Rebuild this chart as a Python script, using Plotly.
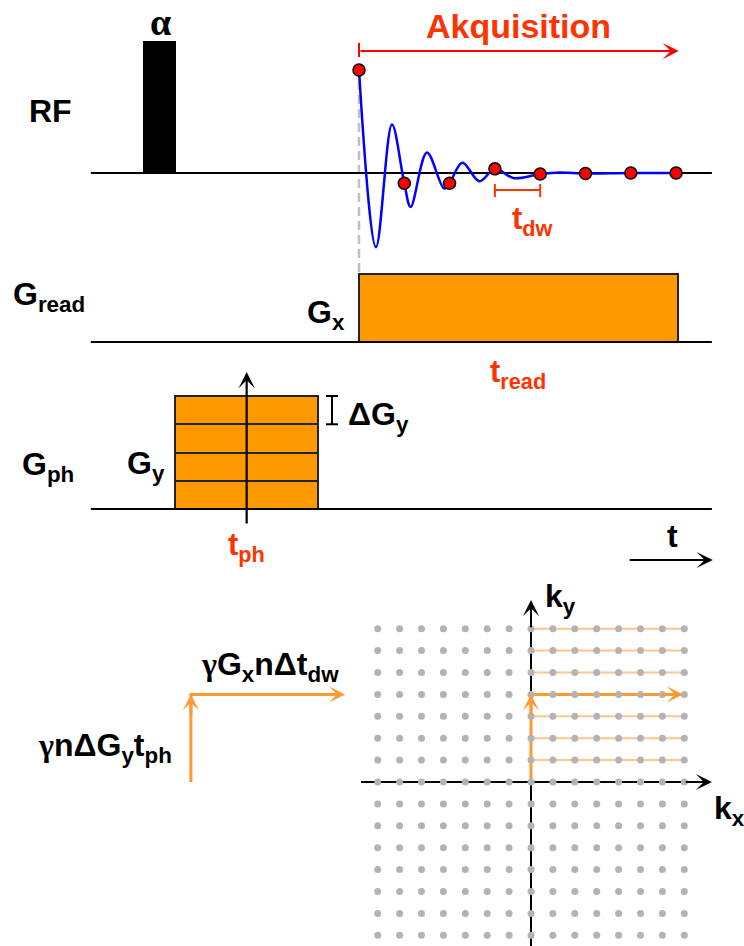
import plotly.graph_objects as go

# ---------------- data ----------------
# time axis in dwell-time units (t_dw = 1); acquisition starts at t = 0
SAMPLE_T = [0, 1, 2, 3, 4, 5, 6, 7]
SAMPLE_V = [1.0, -0.10, -0.10, 0.04, -0.01, -0.005, 0.0, 0.0]
FID_T = [0, 0.375, 0.728, 1.0, 1.14, 1.5, 1.88, 2.0, 2.28, 2.66, 3.0, 3.42, 4.0, 4.44, 5.0, 6.0, 7.0]
FID_V = [1.0, -0.72, 0.47, -0.10, -0.33, 0.20, -0.15, -0.10, 0.10, -0.08, 0.04, -0.05, -0.01, 0.005, -0.005, 0.0, 0.0]
BASE_T = [-5.92, 7.79]
RF_START, RF_END, RF_AMP = -4.77, -4.04, 1.28
GX_START, GX_END, GX_AMP = 0.0, 7.04, 1.0
GY_START, GY_END = -4.06, -0.905
GY_STEPS = [1, 2, 3, 4]          # phase-encoding steps in units of dG_y
T_PH = -2.48
ACQ_END = 7.06
DW_BRACKET = [3, 4]
# k-space grid (index units)
KX = list(range(-7, 8))
KY = list(range(-7, 8))
KY_LINES = [0, 1, 2, 3, 4, 5, 6, 7]
PATH_KY = 4
PATH_KX_END = 6.94
LEGEND_KX = -15.53               # shifted copy of the path (left)
LEGEND_KX_END = -8.49

W, H = 744, 946
FONT = "Liberation Sans"
RED = "#ff3300"
ORANGE = "#ff9900"
ARROW_OR = "#ff9933"
LIGHT_OR = "#ffc58a"

fig = go.Figure()

def line(x, y, xa, ya, color="black", width=2, dash=None):
    fig.add_trace(go.Scatter(x=x, y=y, mode="lines", xaxis=xa, yaxis=ya,
                             line=dict(color=color, width=width, dash=dash),
                             hoverinfo="skip"))

# ---- RF row ----
line(BASE_T, [0, 0], "x", "y")
fig.add_trace(go.Bar(x=[(RF_START + RF_END) / 2], y=[RF_AMP], width=[RF_END - RF_START],
                     base=[0], xaxis="x", yaxis="y", marker=dict(color="black", line=dict(width=0))))
fig.add_trace(go.Scatter(x=FID_T, y=FID_V, mode="lines", xaxis="x", yaxis="y",
                         line=dict(color="#0000ff", width=2.5, shape="spline", smoothing=1.0)))
fig.add_trace(go.Scatter(x=SAMPLE_T, y=SAMPLE_V, mode="markers", xaxis="x", yaxis="y",
                         marker=dict(size=12, color="#ff0000", line=dict(color="black", width=1.5))))

# ---- G_read row ----
line(BASE_T, [0, 0], "x", "y2")
fig.add_trace(go.Bar(x=[(GX_START + GX_END) / 2], y=[GX_AMP], width=[GX_END - GX_START],
                     base=[0], xaxis="x", yaxis="y2",
                     marker=dict(color=ORANGE, line=dict(color="#222", width=2))))

# ---- G_ph row ----
line(BASE_T, [0, 0], "x", "y3")
nG = len(GY_STEPS)
fig.add_trace(go.Bar(x=[(GY_START + GY_END) / 2] * nG, y=[1] * nG, width=[GY_END - GY_START] * nG,
                     base=[s - 1 for s in GY_STEPS], xaxis="x", yaxis="y3",
                     marker=dict(color=ORANGE, line=dict(color="#222", width=2))))

# ---- k-space ----
for ky in KY_LINES:
    line([0, KX[-1]], [ky, ky], "x2", "y4", color=LIGHT_OR, width=2)
line([KX[0] - 0.76, 7.6], [0, 0], "x2", "y4", width=2)
line([0, 0], [-7.6, 7.6], "x2", "y4", width=2)
line([0, 0, PATH_KX_END - 0.5], [0, PATH_KY, PATH_KY], "x2", "y4", color=ARROW_OR, width=3)
line([LEGEND_KX, LEGEND_KX, LEGEND_KX_END - 0.5], [0, PATH_KY, PATH_KY], "x2", "y4", color=ARROW_OR, width=3)
gx = [kx for ky in KY for kx in KX]
gy = [ky for ky in KY for kx in KX]
fig.add_trace(go.Scatter(x=gx, y=gy, mode="markers", xaxis="x2", yaxis="y4",
                         marker=dict(size=7, color="#b3b3b3")))

# ---------------- shapes ----------------
shapes = []
def seg(x0, y0, x1, y1, xref, yref, color="black", width=2, dash=None, layer="above"):
    shapes.append(dict(type="line", x0=x0, y0=y0, x1=x1, y1=y1, xref=xref, yref=yref,
                       line=dict(color=color, width=width, dash=dash), layer=layer))

seg(0, 1 - 272 / H, 0, 1 - 70 / H, "x", "paper", color="#c0c0c0", width=2.5, dash="9px,5px", layer="below")
seg(0, 1.126, 0, 1.262, "x", "y", color="#ff0000", width=2)
# t_dw bracket
seg(DW_BRACKET[0], -0.165, DW_BRACKET[1], -0.165, "x", "y", color=RED, width=2)
for xb in DW_BRACKET:
    seg(xb, -0.107, xb, -0.233, "x", "y", color=RED, width=2)
# dG_y bracket
seg(-0.596, 3, -0.596, 4, "x", "y3", width=2)
seg(-0.728, 4, -0.464, 4, "x", "y3", width=2)
seg(-0.728, 3, -0.464, 3, "x", "y3", width=2)

# ---------------- annotations ----------------
ann = []
def arrow(x, y, ax, ay, xref, yref, color="black", width=2, size=1.0):
    ann.append(dict(x=x, y=y, ax=ax, ay=ay, xref=xref, yref=yref, axref=xref, ayref=yref,
                    text="", showarrow=True, arrowhead=3, arrowwidth=width, arrowsize=size,
                    arrowcolor=color, standoff=0, startstandoff=0))

arrow(ACQ_END, 1.184, 0, 1.184, "x", "y", color="#ff0000", width=2, size=1.35)
arrow(T_PH, 4.85, T_PH, -0.566, "x", "y3", width=2.2, size=1.25)
arrow(7.81, -1.805, 5.94, -1.805, "x", "y3", width=2, size=1.35)
arrow(8.265, 0, 7.0, 0, "x2", "y4", width=2, size=1.35)
arrow(0, 8.31, 0, 7.0, "x2", "y4", width=2, size=1.35)
arrow(0, PATH_KY, 0, PATH_KY - 1, "x2", "y4", color=ARROW_OR, width=3, size=0.9)
arrow(PATH_KX_END, PATH_KY, PATH_KX_END - 1, PATH_KY, "x2", "y4", color=ARROW_OR, width=3, size=0.9)
arrow(LEGEND_KX, PATH_KY, LEGEND_KX, PATH_KY - 1, "x2", "y4", color=ARROW_OR, width=3, size=0.9)
arrow(LEGEND_KX_END, PATH_KY, LEGEND_KX_END - 1, PATH_KY, "x2", "y4", color=ARROW_OR, width=3, size=0.9)

SERIF = "<span style='font-family:Liberation Serif'>%s</span>"
labels = [
    ("<b>RF</b>", 50, 111, "black", 32),
    ("<b>" + SERIF % "α" + "</b>", 160, 22, "black", 38),
    ("<b>Akquisition</b>", 518, 26, RED, 34),
    ("<b>t<sub>dw</sub></b>", 532, 221, RED, 31),
    ("<b>G<sub>read</sub></b>", 49, 296, "black", 32),
    ("<b>G<sub>x</sub></b>", 326, 314, "black", 32),
    ("<b>t<sub>read</sub></b>", 518, 374, RED, 31),
    ("<b>ΔG<sub>y</sub></b>", 378, 416, "black", 32),
    ("<b>G<sub>y</sub></b>", 146, 465, "black", 32),
    ("<b>G<sub>ph</sub></b>", 48, 466, "black", 32),
    ("<b>t<sub>ph</sub></b>", 246, 547, RED, 31),
    ("<b>t</b>", 672, 536, "black", 32),
    ("<b>" + SERIF % "γ" + "G<sub>x</sub>nΔt<sub>dw</sub></b>", 270, 666, "black", 32),
    ("<b>" + SERIF % "γ" + "nΔG<sub>y</sub>t<sub>ph</sub></b>", 105, 747, "black", 32),
    ("<b>k<sub>y</sub></b>", 560, 598, "black", 32),
    ("<b>k<sub>x</sub></b>", 729, 810, "black", 32),
]
for txt, px, py, col, sz in labels:
    ann.append(dict(text=txt, x=px / W, y=1 - py / H, xref="paper", yref="paper",
                    xanchor="center", yanchor="middle", showarrow=False,
                    font=dict(family=FONT, size=sz, color=col)))

hidden = dict(visible=False, fixedrange=True, showgrid=False, zeroline=False)
fig.update_layout(
    width=W, height=H, margin=dict(l=0, r=0, t=0, b=0),
    paper_bgcolor="white", plot_bgcolor="white", showlegend=False,
    barmode="overlay", bargap=0,
    xaxis=dict(hidden, domain=[0, 1], range=[-7.925, 8.499], anchor="y"),
    yaxis=dict(hidden, domain=[1 - 260 / H, 1], range=[-0.845, 1.68], anchor="x"),
    yaxis2=dict(hidden, domain=[1 - 360 / H, 1 - 262 / H], range=[-0.265, 1.176], anchor="x"),
    yaxis3=dict(hidden, domain=[1 - 580 / H, 1 - 362 / H], range=[-2.513, 5.204], anchor="x"),
    xaxis2=dict(hidden, domain=[0, 1], range=[-24.247, 9.726], anchor="y4"),
    yaxis4=dict(hidden, domain=[0, 1 - 580 / H], range=[-7.489, 9.224], anchor="x2"),
    shapes=shapes, annotations=ann,
)
fig.write_html("out.html")
